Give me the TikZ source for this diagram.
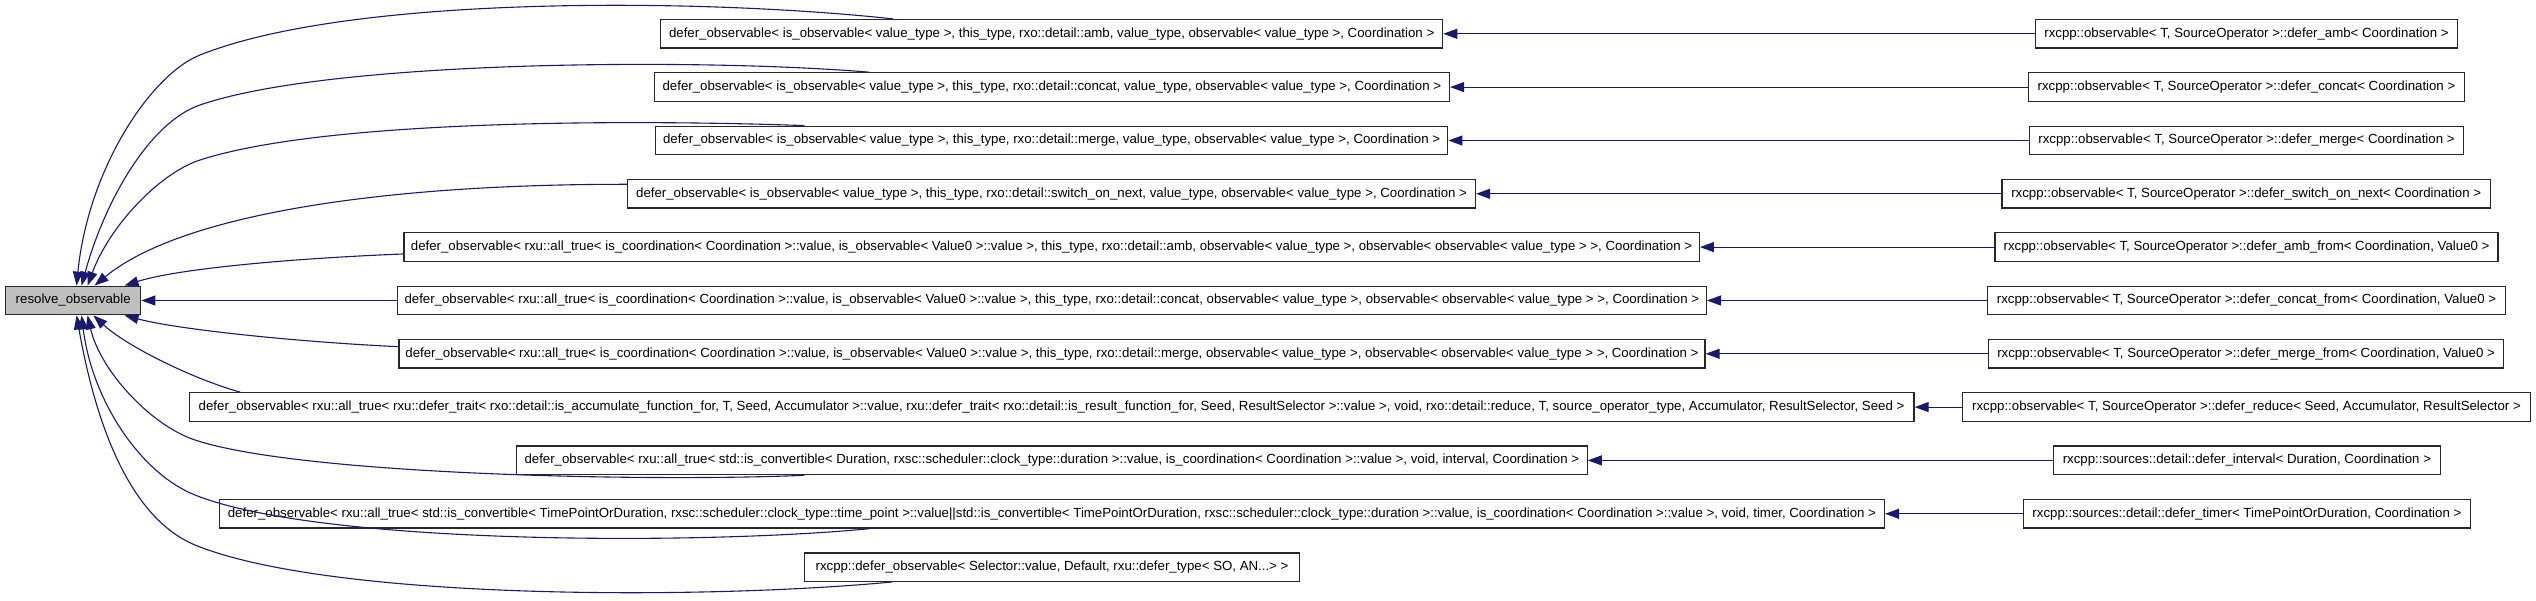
\documentclass[tikz,border=0pt]{standalone}
\usepackage{fontspec}
\setmainfont{Liberation Sans}
\usetikzlibrary{arrows.meta,calc}
\definecolor{edgeblue}{RGB}{25,25,112}
\definecolor{boxline}{RGB}{40,40,40}
\definecolor{resfill}{RGB}{191,191,191}
\begin{document}
\begin{tikzpicture}[x=1pt,y=-1pt,
  box/.style={draw=boxline, fill=white, line width=1.3pt, minimum height=28.5pt, inner sep=0pt, font=\fontsize{13.25}{15}\selectfont},
  edge/.style={draw=edgeblue, line width=1.1pt, -{Triangle[length=14pt,width=10pt,fill=edgeblue]}}]
\fill[white] (0,0) rectangle (2536,601);
\useasboundingbox (0,0) rectangle (2536,601);

% target
\node[box, fill=resfill, minimum width=135pt] (res) at (73.2,300.5) {resolve\_observable};

% middle column
\node[box, minimum width=781.8pt] (L1) at (1051.7,33.8) {defer\_observable< is\_observable< value\_type >, this\_type, rxo::detail::amb, value\_type, observable< value\_type >, Coordination >};
\node[box, minimum width=795.2pt] (L2) at (1051.9,87.1) {defer\_observable< is\_observable< value\_type >, this\_type, rxo::detail::concat, value\_type, observable< value\_type >, Coordination >};
\node[box, minimum width=792.4pt] (L3) at (1051.6,140.5) {defer\_observable< is\_observable< value\_type >, this\_type, rxo::detail::merge, value\_type, observable< value\_type >, Coordination >};
\node[box, minimum width=847.6pt] (L4) at (1051.6,193.8) {defer\_observable< is\_observable< value\_type >, this\_type, rxo::detail::switch\_on\_next, value\_type, observable< value\_type >, Coordination >};
\node[box, minimum width=1295.4pt] (L5) at (1051.6,247.1) {defer\_observable< rxu::all\_true< is\_coordination< Coordination >::value, is\_observable< Value0 >::value >, this\_type, rxo::detail::amb, observable< value\_type >, observable< observable< value\_type > >, Coordination >};
\node[box, minimum width=1308.9pt] (L6) at (1051.9,300.5) {defer\_observable< rxu::all\_true< is\_coordination< Coordination >::value, is\_observable< Value0 >::value >, this\_type, rxo::detail::concat, observable< value\_type >, observable< observable< value\_type > >, Coordination >};
\node[box, minimum width=1305.9pt] (L7) at (1052,353.8) {defer\_observable< rxu::all\_true< is\_coordination< Coordination >::value, is\_observable< Value0 >::value >, this\_type, rxo::detail::merge, observable< value\_type >, observable< observable< value\_type > >, Coordination >};
\node[box, minimum width=1724.8pt] (L8) at (1051.6,407.1) {defer\_observable< rxu::all\_true< rxu::defer\_trait< rxo::detail::is\_accumulate\_function\_for, T, Seed, Accumulator >::value, rxu::defer\_trait< rxo::detail::is\_result\_function\_for, Seed, ResultSelector >::value >, void, rxo::detail::reduce, T, source\_operator\_type, Accumulator, ResultSelector, Seed >};
\node[box, minimum width=1070.5pt] (L9) at (1051.9,460.4) {defer\_observable< rxu::all\_true< std::is\_convertible< Duration, rxsc::scheduler::clock\_type::duration >::value, is\_coordination< Coordination >::value >, void, interval, Coordination >};
\node[box, minimum width=1664.7pt] (L10) at (1052,513.8) {defer\_observable< rxu::all\_true< std::is\_convertible< TimePointOrDuration, rxsc::scheduler::clock\_type::time\_point >::value||std::is\_convertible< TimePointOrDuration, rxsc::scheduler::clock\_type::duration >::value, is\_coordination< Coordination >::value >, void, timer, Coordination >};
\node[box, minimum width=495.4pt] (L11) at (1052,567.1) {rxcpp::defer\_observable< Selector::value, Default, rxu::defer\_type< SO, AN...> >};

% right column
\node[box, minimum width=422.5pt] (R1) at (2246.5,33.8) {rxcpp::observable< T, SourceOperator >::defer\_amb< Coordination >};
\node[box, minimum width=436.4pt] (R2) at (2246.5,87.1) {rxcpp::observable< T, SourceOperator >::defer\_concat< Coordination >};
\node[box, minimum width=433.6pt] (R3) at (2246.5,140.5) {rxcpp::observable< T, SourceOperator >::defer\_merge< Coordination >};
\node[box, minimum width=488.3pt] (R4) at (2246.2,193.8) {rxcpp::observable< T, SourceOperator >::defer\_switch\_on\_next< Coordination >};
\node[box, minimum width=502.8pt] (R5) at (2246.5,247.1) {rxcpp::observable< T, SourceOperator >::defer\_amb\_from< Coordination, Value0 >};
\node[box, minimum width=518pt] (R6) at (2246.5,300.5) {rxcpp::observable< T, SourceOperator >::defer\_concat\_from< Coordination, Value0 >};
\node[box, minimum width=514.6pt] (R7) at (2246.1,353.8) {rxcpp::observable< T, SourceOperator >::defer\_merge\_from< Coordination, Value0 >};
\node[box, minimum width=568pt] (R8) at (2246.5,407.1) {rxcpp::observable< T, SourceOperator >::defer\_reduce< Seed, Accumulator, ResultSelector >};
\node[box, minimum width=387.1pt] (R9) at (2246.9,460.4) {rxcpp::sources::detail::defer\_interval< Duration, Coordination >};
\node[box, minimum width=446.7pt] (R10) at (2246.9,513.8) {rxcpp::sources::detail::defer\_timer< TimePointOrDuration, Coordination >};

% right -> middle
\foreach \i in {1,...,10} {\draw[edge] (R\i.west) -- (L\i.east);}

% middle -> target
\draw[edge] ($(L1.north west)+(233,0)$) .. controls (700,-2) and (350,-5) .. (200,55)
  .. controls (150,75) and (88,170) .. ($(res.north west)+(71.5,0)$);
\draw[edge] ($(L2.north west)+(215.7,0)$) .. controls (700,58) and (330,60) .. (200,105)
  .. controls (150,122) and (105,200) .. ($(res.north west)+(76.5,0)$);
\draw[edge] ($(L3.north west)+(149.6,0)$) .. controls (650,120) and (330,118) .. (200,160)
  .. controls (160,173) and (110,225) .. ($(res.north west)+(82.5,0)$);
\draw[edge] ($(L4.west)+(0,-9.5)$) .. controls (380,184) and (180,215) .. ($(res.north west)+(89.5,0)$);
\draw[edge] ($(L5.west)+(0,6.9)$) .. controls (300,258) and (180,268) .. ($(res.north west)+(119.5,0)$);
\draw[edge] (L6.west) -- (res.east);
\draw[edge] ($(L7.west)+(0,-7.1)$) .. controls (300,342) and (180,330) .. ($(res.south west)+(119.5,0)$);
\draw[edge] ($(L8.north west)+(51.8,0)$) .. controls (190,378) and (125,345) .. ($(res.south west)+(88.5,0)$);
\draw[edge] ($(L9.south west)+(288.4,0)$) .. controls (650,482) and (300,475) .. (195,440)
  .. controls (150,425) and (100,370) .. ($(res.south west)+(82.5,0)$);
\draw[edge] ($(L10.south west)+(650.4,0)$) .. controls (700,545) and (320,545) .. (195,495)
  .. controls (140,473) and (92,400) .. ($(res.south west)+(76.5,0)$);
\draw[edge] ($(L11.south west)+(88.4,0)$) .. controls (700,600) and (330,600) .. (195,545)
  .. controls (128,517) and (95,420) .. ($(res.south west)+(71.5,0)$);
\end{tikzpicture}
\end{document}
